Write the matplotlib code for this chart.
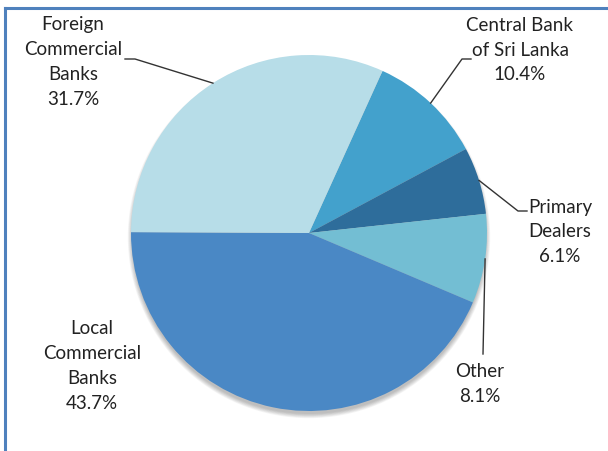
import numpy as np
import matplotlib.pyplot as plt
from matplotlib.patches import Circle
from matplotlib.lines import Line2D

# holdings of government securities by investor group (%)
sectors = ["Central Bank\nof Sri Lanka", "Primary\nDealers", "Other",
           "Local\nCommercial\nBanks", "Foreign\nCommercial\nBanks"]
shares = [10.4, 6.1, 8.1, 43.7, 31.7]
colors = ["#43a1cc", "#2e6d9b", "#73bed3", "#4a88c5", "#b7dde8"]

W, H = 608, 452
fig = plt.figure(figsize=(W / 100, H / 100), dpi=100)
ax = fig.add_axes([0, 0, 1, 1])

cx, cy, r = 309, H - 234, 178
start = 90 - 24.4

# soft shadow, mostly under the bottom edge
for i in range(7):
    ax.add_patch(Circle((cx, cy - 4), r - 1 + i * 0.7, color="black",
                        alpha=0.04, lw=0, zorder=1))

wedges, _ = ax.pie(shares, colors=colors, startangle=start, counterclock=False,
                   center=(cx, cy), radius=r, frame=True,
                   wedgeprops=dict(linewidth=0, zorder=2))
ax.set_xlim(0, W)
ax.set_ylim(0, H)
ax.set_aspect("equal")
ax.axis("off")

font = dict(family="Lato", fontsize=13.5, color="#222222", ha="center",
            va="center", linespacing=1.55)

# label position (text centre) and leader elbow, in pixels from top-left
label_xy = [(520, 50), (560, 232), (480, 384), (92, 366), (73, 62)]
elbows = [[(471, 60), (462, 60)], [(527, 212), (518, 212)], [(483, 355)],
          None, [(125, 60), (135, 60)]]

for w, name, val, (lx, ly), elb in zip(wedges, sectors, shares, label_xy, elbows):
    ax.text(lx, H - ly, f"{name}\n{val:.1f}%", zorder=5, **font)
    if elb is None:
        continue
    mid = np.deg2rad((w.theta1 + w.theta2) / 2)
    px, py = cx + r * np.cos(mid), cy + r * np.sin(mid)
    xs = [p[0] for p in elb] + [px]
    ys = [H - p[1] for p in elb] + [py]
    ax.plot(xs, ys, color="#333333", lw=1, zorder=4)

# chart frame, partly cut off at the right and bottom
border = "#4f81bd"
fig.add_artist(Line2D([5 / W, 1], [1 - 9 / H, 1 - 9 / H], color=border, lw=2.2))
fig.add_artist(Line2D([5 / W, 5 / W], [0, 1 - 9 / H], color=border, lw=2.2))

fig.savefig("out.png", dpi=100)
